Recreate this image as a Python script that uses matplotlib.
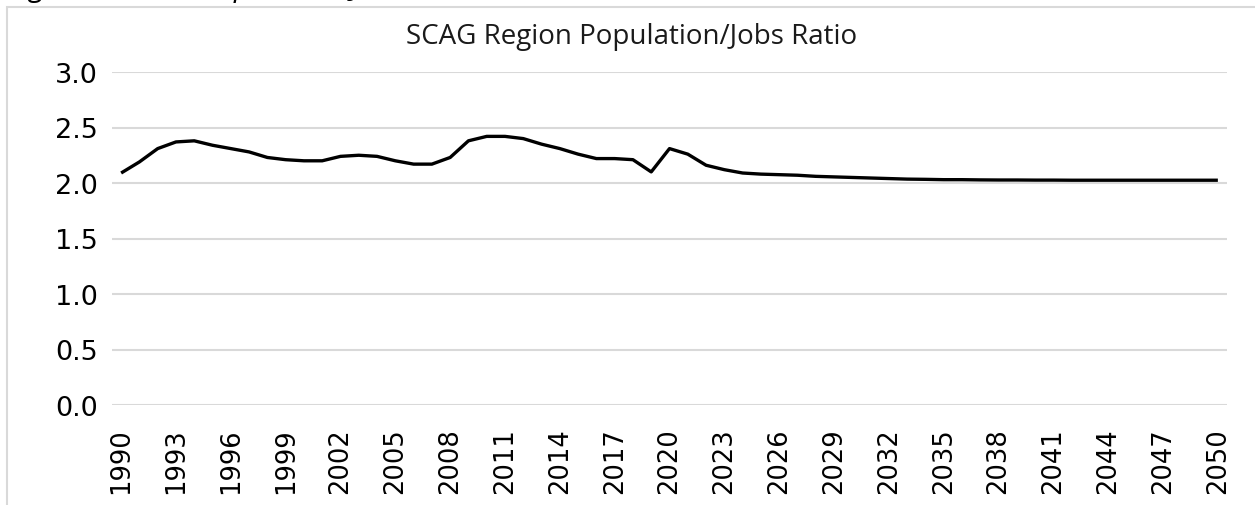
import numpy as np
import matplotlib
matplotlib.use('Agg')
import matplotlib.pyplot as plt
from matplotlib.patches import Rectangle

# Data
years = list(range(1990, 2051))
ratio = [2.09, 2.19, 2.31, 2.37, 2.38, 2.34, 2.31, 2.28, 2.23, 2.21,
         2.20, 2.20, 2.24, 2.25, 2.24, 2.20, 2.17, 2.17, 2.23, 2.38,
         2.42, 2.42, 2.40, 2.35, 2.31, 2.26, 2.22, 2.22, 2.21, 2.10,
         2.31, 2.26, 2.16, 2.12, 2.09, 2.08, 2.075, 2.07, 2.06, 2.055,
         2.05, 2.045, 2.04, 2.035, 2.033, 2.03, 2.03, 2.028, 2.027, 2.027,
         2.026, 2.026, 2.025, 2.025, 2.025, 2.025, 2.025, 2.025, 2.025, 2.025,
         2.025]
tick_years = years[::3]
y_ticks = [0.0, 0.5, 1.0, 1.5, 2.0, 2.5, 3.0]

W, H = 1255, 506
fig = plt.figure(figsize=(W / 100, H / 100), dpi=100)

# axes placed in pixel terms
left, right, top, bottom = 112, 1227, 73, 406
ax = fig.add_axes([left / W, 1 - bottom / H, (right - left) / W, (bottom - top) / H])

ax.plot(years, ratio, color='black', lw=2.4, solid_joinstyle='round', solid_capstyle='butt')

ax.set_xlim(1989.5, 2050.5)
ax.set_ylim(0, 3.0)
ax.set_yticks(y_ticks)
ax.set_yticklabels([f"{v:.1f}" for v in y_ticks])
ax.set_xticks(tick_years)
ax.set_xticklabels([str(y) for y in tick_years], rotation=90)

ax.grid(axis='y', color='#d9d9d9', lw=1.5)
ax.set_axisbelow(True)
for s in ax.spines.values():
    s.set_visible(False)
ax.tick_params(axis='both', length=0, labelsize=18.5, labelcolor='black')
ax.tick_params(axis='y', labelsize=19.5, pad=10)
ax.tick_params(axis='x', pad=16)

# chart title
fig.text(632 / W, 1 - 37 / H, "SCAG Region Population/Jobs Ratio",
         ha='center', va='center', fontsize=20, family='Open Sans', color='#1a1a1a')

# outer chart border (runs off the right and bottom of the crop)
fig.patches.append(Rectangle((7 / W, -0.1), 1.2, 1 - 8 / H + 0.1,
                             transform=fig.transFigure, fill=False,
                             edgecolor='#d9d9d9', lw=1.5))

# caption above, mostly cut off at the top edge
fig.text(8 / W, 1 + 4 / H, "Figure 5: SCAG Population/Jobs Ratio",
         ha='left', va='baseline', fontsize=21, family='Open Sans',
         style='italic', color='black')

fig.savefig('out.png', dpi=100)
